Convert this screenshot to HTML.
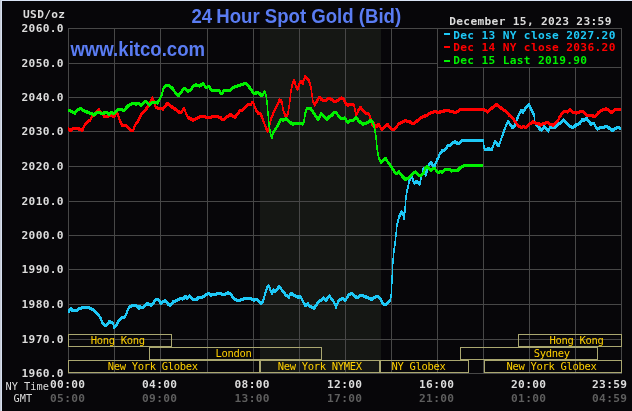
<!DOCTYPE html>
<html><head><meta charset="utf-8"><title>24 Hour Spot Gold</title>
<style>
html,body{margin:0;padding:0;background:#070609;overflow:hidden;}
svg{display:block;}
.lb{font-family:"DejaVu Sans Mono",monospace;font-weight:bold;font-size:11.2px;letter-spacing:0.33px;}
.ss{font-family:"DejaVu Sans Mono",monospace;font-size:10.5px;letter-spacing:-0.32px;fill:#ffd000;}
.sm{font-family:"DejaVu Sans Mono",monospace;font-size:10.3px;}
.tt{font-family:"Liberation Sans",Arial,sans-serif;font-weight:bold;font-size:19.8px;fill:#5a7cf2;}
</style></head>
<body>
<svg width="632" height="411" viewBox="0 0 632 411">
<rect x="0" y="0" width="632" height="411" fill="#070609"/>
<rect x="260" y="29" width="121" height="344" fill="#151714"/>
<rect x="68" y="28" width="1" height="346" fill="#474747"/>
<rect x="114" y="28" width="1" height="346" fill="#474747"/>
<rect x="160" y="28" width="1" height="346" fill="#474747"/>
<rect x="207" y="28" width="1" height="346" fill="#474747"/>
<rect x="253" y="28" width="1" height="346" fill="#474747"/>
<rect x="299" y="28" width="1" height="346" fill="#474747"/>
<rect x="345" y="28" width="1" height="346" fill="#474747"/>
<rect x="391" y="28" width="1" height="346" fill="#474747"/>
<rect x="437" y="28" width="1" height="346" fill="#474747"/>
<rect x="483" y="28" width="1" height="346" fill="#474747"/>
<rect x="529" y="28" width="1" height="346" fill="#474747"/>
<rect x="575" y="28" width="1" height="346" fill="#474747"/>
<rect x="621" y="28" width="1" height="346" fill="#474747"/>
<rect x="68" y="28" width="554" height="1" fill="#474747"/>
<rect x="68" y="63" width="554" height="1" fill="#474747"/>
<rect x="68" y="97" width="554" height="1" fill="#474747"/>
<rect x="68" y="131" width="554" height="1" fill="#474747"/>
<rect x="68" y="166" width="554" height="1" fill="#474747"/>
<rect x="68" y="201" width="554" height="1" fill="#474747"/>
<rect x="68" y="235" width="554" height="1" fill="#474747"/>
<rect x="68" y="269" width="554" height="1" fill="#474747"/>
<rect x="68" y="304" width="554" height="1" fill="#474747"/>
<rect x="68" y="339" width="554" height="1" fill="#474747"/>
<rect x="68" y="373" width="554" height="1" fill="#474747"/>
<rect x="68.5" y="334.5" width="103" height="12" fill="none" stroke="#aaa770" stroke-width="1"/>
<rect x="518.5" y="334.5" width="103" height="12" fill="none" stroke="#aaa770" stroke-width="1"/>
<rect x="149.5" y="347.5" width="172" height="12" fill="none" stroke="#aaa770" stroke-width="1"/>
<rect x="460.5" y="347.5" width="137" height="12" fill="none" stroke="#aaa770" stroke-width="1"/>
<rect x="68.5" y="360.5" width="191" height="12" fill="none" stroke="#aaa770" stroke-width="1"/>
<rect x="260.5" y="360.5" width="119" height="12" fill="none" stroke="#aaa770" stroke-width="1"/>
<rect x="380.5" y="360.5" width="88" height="12" fill="none" stroke="#aaa770" stroke-width="1"/>
<rect x="484.5" y="360.5" width="137" height="12" fill="none" stroke="#aaa770" stroke-width="1"/>
<text x="90.8" y="344.1" class="ss">Hong Kong</text>
<text x="549.6" y="344.1" class="ss">Hong Kong</text>
<text x="215.6" y="357" class="ss">London</text>
<text x="533.8" y="357" class="ss">Sydney</text>
<text x="107.8" y="370" class="ss">New York Globex</text>
<text x="277.8" y="370" class="ss">New York NYMEX</text>
<text x="391.6" y="370" class="ss">NY Globex</text>
<text x="506.6" y="370" class="ss">New York Globex</text>
<path d="M67.8,310.3 68.9,308.8 70.1,308.8 70.1,311.8 69,313.3 67.8,313.3ZM68.9,308.8 70.2,307.3 71.4,307.3 71.4,310.3 70.1,311.8 68.9,311.8ZM70.2,307.3 71.4,307.3 72.7,308.6 72.7,311.6 71.5,311.6 70.2,310.3ZM71.5,308.6 72.7,308.6 75.4,309 75.4,312 74.2,312 71.5,311.6ZM74.2,309 76.8,308.6 78,308.6 78,311.6 75.4,312 74.2,312ZM76.8,308.6 78.5,307.3 79.7,307.3 79.7,310.3 78,311.6 76.8,311.6ZM78.5,307.3 81.2,306.4 82.4,306.4 82.4,309.4 79.7,310.3 78.5,310.3ZM81.2,306.4 83.8,305.5 85,305.5 85,308.5 82.4,309.4 81.2,309.4ZM83.8,305.5 85,305.5 86.6,305.9 86.6,308.9 85.4,308.9 83.8,308.5ZM85.4,305.9 89.2,305.9 89.2,308.9 85.4,308.9ZM88,305.9 89.2,305.9 91.9,307.2 91.9,310.2 90.7,310.2 88,308.9ZM90.7,307.2 91.9,307.2 94.5,308.9 94.5,311.9 93.3,311.9 90.7,310.2ZM93.3,308.9 94.5,308.9 97.1,311.6 97.1,314.6 95.9,314.6 93.3,311.9ZM95.9,311.6 97.1,311.6 99.7,314.2 99.7,317.2 98.5,317.2 95.9,314.6ZM98.5,314.2 99.7,314.2 101.5,317.3 101.5,320.3 100.3,320.3 98.5,317.2ZM100.3,317.3 101.5,317.3 102.8,320.8 102.8,323.8 101.6,323.8 100.3,320.3ZM101.6,320.8 102.8,320.8 104.1,323 104.1,326 102.9,326 101.6,323.8ZM102.9,323 104.1,323 106.3,323.8 106.3,326.8 105.1,326.8 102.9,326ZM105.1,323.8 106.9,322.5 108.1,322.5 108.1,325.5 106.3,326.8 105.1,326.8ZM106.9,322.5 108.6,320.3 109.8,320.3 109.8,323.3 108.1,325.5 106.9,325.5ZM108.6,320.3 109.8,320.3 112,320.8 112,323.8 110.8,323.8 108.6,323.3ZM110.8,320.8 112,320.8 113.7,322.1 113.7,325.1 112.5,325.1 110.8,323.8ZM112.5,322.1 113.7,322.1 114.6,326 114.6,329 113.4,329 112.5,325.1ZM113.4,326 114.7,324.7 115.9,324.7 115.9,327.7 114.6,329 113.4,329ZM114.7,324.7 116.5,322.5 117.7,322.5 117.7,325.5 115.9,327.7 114.7,327.7ZM116.5,322.5 117.7,319.9 118.9,319.9 118.9,322.9 117.7,325.5 116.5,325.5ZM117.7,319.9 119.5,318.1 120.7,318.1 120.7,321.1 118.9,322.9 117.7,322.9ZM119.5,318.1 121.2,316.4 122.4,316.4 122.4,319.4 120.7,321.1 119.5,321.1ZM121.2,316.4 124.2,316.4 124.2,319.4 121.2,319.4ZM123,316.4 124.7,314.6 125.9,314.6 125.9,317.6 124.2,319.4 123,319.4ZM124.7,314.6 125.9,312.3 127.1,312.3 127.1,315.3 125.9,317.6 124.7,317.6ZM125.9,312.3 126.8,309.3 128,309.3 128,312.3 127.1,315.3 125.9,315.3ZM126.8,309.3 128,306.7 129.2,306.7 129.2,309.7 128,312.3 126.8,312.3ZM128,306.7 129.4,305.3 130.6,305.3 130.6,308.3 129.2,309.7 128,309.7ZM129.4,305.3 130.9,304.7 132.1,304.7 132.1,307.7 130.6,308.3 129.4,308.3ZM130.9,304.7 132.3,303.5 133.5,303.5 133.5,306.5 132.1,307.7 130.9,307.7ZM132.3,303.5 133.5,303.5 134.7,304.1 134.7,307.1 133.5,307.1 132.3,306.5ZM133.5,304.1 134.7,304.1 136.5,304.4 136.5,307.4 135.3,307.4 133.5,307.1ZM135.3,304.4 136.5,304.4 137.9,304.7 137.9,307.7 136.7,307.7 135.3,307.4ZM136.7,304.7 137.9,304.7 139.1,306.1 139.1,309.1 137.9,309.1 136.7,307.7ZM137.9,306.1 139.1,306.1 140.2,307 140.2,310 139,310 137.9,309.1ZM139,307 139.5,305.2 140.7,305.2 140.7,308.2 140.2,310 139,310ZM139.5,305.2 140.7,305.2 143.5,306.3 143.5,309.3 142.3,309.3 139.5,308.2ZM142.3,306.3 144.4,304.2 145.6,304.2 145.6,307.2 143.5,309.3 142.3,309.3ZM144.4,304.2 146.5,302.1 147.7,302.1 147.7,305.1 145.6,307.2 144.4,307.2ZM146.5,302.1 147.7,302.1 149.7,303.1 149.7,306.1 148.5,306.1 146.5,305.1ZM148.5,303.1 149.7,303.1 151.8,303.8 151.8,306.8 150.6,306.8 148.5,306.1ZM150.6,303.8 152.4,302.1 153.6,302.1 153.6,305.1 151.8,306.8 150.6,306.8ZM152.4,302.1 154.1,299.6 155.3,299.6 155.3,302.6 153.6,305.1 152.4,305.1ZM154.1,299.6 156.2,297.6 157.4,297.6 157.4,300.6 155.3,302.6 154.1,302.6ZM156.2,297.6 158.8,297.6 158.8,300.6 156.2,300.6ZM157.6,297.6 158.8,297.6 160.2,300 160.2,303 159,303 157.6,300.6ZM159,300 160.2,300 161.6,302.1 161.6,305.1 160.4,305.1 159,303ZM160.4,302.1 162.5,300 163.7,300 163.7,303 161.6,305.1 160.4,305.1ZM162.5,300 164.2,299.3 165.4,299.3 165.4,302.3 163.7,303 162.5,303ZM164.2,299.3 165.4,299.3 167.2,300.3 167.2,303.3 166,303.3 164.2,302.3ZM166,300.3 167.2,300.3 168.9,302.8 168.9,305.8 167.7,305.8 166,303.3ZM167.7,302.8 168.9,302.8 170.6,304.2 170.6,307.2 169.4,307.2 167.7,305.8ZM169.4,304.2 170.8,302.4 172,302.4 172,305.4 170.6,307.2 169.4,307.2ZM170.8,302.4 172.9,300 174.1,300 174.1,303 172,305.4 170.8,305.4ZM172.9,300 175.4,299.3 176.6,299.3 176.6,302.3 174.1,303 172.9,303ZM175.4,299.3 177.8,298.2 179,298.2 179,301.2 176.6,302.3 175.4,302.3ZM177.8,298.2 179.9,297.2 181.1,297.2 181.1,300.2 179,301.2 177.8,301.2ZM179.9,297.2 181.4,296.9 182.6,296.9 182.6,299.9 181.1,300.2 179.9,300.2ZM181.4,296.9 182.6,296.9 183.4,297.5 183.4,300.5 182.2,300.5 181.4,299.9ZM182.2,297.5 185,295 186.2,295 186.2,298 183.4,300.5 182.2,300.5ZM185,295 186.2,295 187.9,297.1 187.9,300.1 186.7,300.1 185,298ZM186.7,297.1 189.1,294.3 190.3,294.3 190.3,297.3 187.9,300.1 186.7,300.1ZM189.1,294.3 190.3,294.3 192.8,297.5 192.8,300.5 191.6,300.5 189.1,297.3ZM191.6,297.5 192.8,297.5 194.5,298.2 194.5,301.2 193.3,301.2 191.6,300.5ZM193.3,298.2 197,298.2 197,301.2 193.3,301.2ZM195.8,298.2 198.2,295.7 199.4,295.7 199.4,298.7 197,301.2 195.8,301.2ZM198.2,295.7 199.4,295.7 202.2,296.1 202.2,299.1 201,299.1 198.2,298.7ZM201,296.1 203.4,295 204.6,295 204.6,298 202.2,299.1 201,299.1ZM203.4,295 205.9,292.9 207.1,292.9 207.1,295.9 204.6,298 203.4,298ZM205.9,292.9 208,291.6 209.2,291.6 209.2,294.6 207.1,295.9 205.9,295.9ZM208,291.6 209.2,291.6 211.2,293.6 211.2,296.6 210,296.6 208,294.6ZM210,293.6 212.8,293.3 214,293.3 214,296.3 211.2,296.6 210,296.6ZM212.8,293.3 215.6,292.6 216.8,292.6 216.8,295.6 214,296.3 212.8,296.3ZM215.6,292.6 219.1,291.6 220.3,291.6 220.3,294.6 216.8,295.6 215.6,295.6ZM219.1,291.6 220.3,291.6 222.4,292.9 222.4,295.9 221.2,295.9 219.1,294.6ZM221.2,292.9 222.4,292.9 224.6,293.3 224.6,296.3 223.4,296.3 221.2,295.9ZM223.4,293.3 224.9,292.4 226.1,292.4 226.1,295.4 224.6,296.3 223.4,296.3ZM224.9,292.4 227.3,291.4 228.5,291.4 228.5,294.4 226.1,295.4 224.9,295.4ZM227.3,291.4 228.5,291.4 231,292.4 231,295.4 229.8,295.4 227.3,294.4ZM229.8,292.4 231,292.4 233,295.2 233,298.2 231.8,298.2 229.8,295.4ZM231.8,295.2 233,295.2 235.1,297.7 235.1,300.7 233.9,300.7 231.8,298.2ZM233.9,297.7 235.1,297.7 237.2,298.7 237.2,301.7 236,301.7 233.9,300.7ZM236,298.7 240,298.7 240,301.7 236,301.7ZM238.8,298.7 241.6,298 242.8,298 242.8,301 240,301.7 238.8,301.7ZM241.6,298 245.1,296.6 246.3,296.6 246.3,299.6 242.8,301 241.6,301ZM245.1,296.6 249.8,296.6 249.8,299.6 245.1,299.6ZM248.6,296.6 249.8,296.6 252.5,297.7 252.5,300.7 251.3,300.7 248.6,299.6ZM251.3,297.7 252.5,297.7 254.6,298.7 254.6,301.7 253.4,301.7 251.3,300.7ZM253.4,298.7 255.5,297.7 256.7,297.7 256.7,300.7 254.6,301.7 253.4,301.7ZM255.5,297.7 256.7,297.7 258.8,298.7 258.8,301.7 257.6,301.7 255.5,300.7ZM257.6,298.7 258.8,298.7 260.6,300.8 260.6,303.8 259.4,303.8 257.6,301.7ZM259.4,300.8 260.6,300.8 261.9,301.8 261.9,304.8 260.7,304.8 259.4,303.8ZM260.7,301.8 262.5,299.4 263.7,299.4 263.7,302.4 261.9,304.8 260.7,304.8ZM262.5,299.4 263.5,295.9 264.7,295.9 264.7,298.9 263.7,302.4 262.5,302.4ZM263.5,295.9 264.6,291.7 265.8,291.7 265.8,294.7 264.7,298.9 263.5,298.9ZM264.6,291.7 264.9,290.9 266.1,290.9 266.1,293.9 265.8,294.7 264.6,294.7ZM264.9,290.9 266.7,285.8 267.9,285.8 267.9,288.8 266.1,293.9 264.9,293.9ZM266.7,285.8 268.1,284.3 269.3,284.3 269.3,287.3 267.9,288.8 266.7,288.8ZM268.1,284.3 269.3,284.3 270.8,288 270.8,291 269.6,291 268.1,287.3ZM269.6,288 270.8,288 272.3,292 272.3,295 271.1,295 269.6,291ZM271.1,292 272.9,288.4 274.1,288.4 274.1,291.4 272.3,295 271.1,295ZM272.9,288.4 274.1,288.4 275.5,289.8 275.5,292.8 274.3,292.8 272.9,291.4ZM274.3,289.8 276.5,287.6 277.7,287.6 277.7,290.6 275.5,292.8 274.3,292.8ZM276.5,287.6 278.7,285.1 279.9,285.1 279.9,288.1 277.7,290.6 276.5,290.6ZM278.7,285.1 279.9,285.1 282.1,288 282.1,291 280.9,291 278.7,288.1ZM280.9,288 282.1,288 284.3,290.9 284.3,293.9 283.1,293.9 280.9,291ZM283.1,290.9 284.3,290.9 286.5,293.5 286.5,296.5 285.3,296.5 283.1,293.9ZM285.3,293.5 286.5,293.5 288,294.2 288,297.2 286.8,297.2 285.3,296.5ZM286.8,294.2 288,294.2 289.4,296 289.4,299 288.2,299 286.8,297.2ZM288.2,296 290,291.6 291.2,291.6 291.2,294.6 289.4,299 288.2,299ZM290,291.6 291.2,291.6 293.4,293.1 293.4,296.1 292.2,296.1 290,294.6ZM292.2,293.1 293.4,293.1 296,294.6 296,297.6 294.8,297.6 292.2,296.1ZM294.8,294.6 296,294.6 298.2,295.7 298.2,298.7 297,298.7 294.8,297.6ZM297,295.7 299.9,295.3 301.1,295.3 301.1,298.3 298.2,298.7 297,298.7ZM299.9,295.3 301.1,295.3 302.6,298.2 302.6,301.2 301.4,301.2 299.9,298.3ZM301.4,298.2 302.6,298.2 304.4,301.5 304.4,304.5 303.2,304.5 301.4,301.2ZM303.2,301.5 304.4,301.5 306.2,304.4 306.2,307.4 305,307.4 303.2,304.5ZM305,304.4 307.2,302.2 308.4,302.2 308.4,305.2 306.2,307.4 305,307.4ZM307.2,302.2 308.4,302.2 309.8,304.2 309.8,307.2 308.6,307.2 307.2,305.2ZM308.6,304.2 309.8,304.2 312.2,305.6 312.2,308.6 311,308.6 308.6,307.2ZM311,305.6 312.2,305.6 314.7,307.1 314.7,310.1 313.5,310.1 311,308.6ZM313.5,307.1 315.9,303.2 317.1,303.2 317.1,306.2 314.7,310.1 313.5,310.1ZM315.9,303.2 318.3,300.3 319.5,300.3 319.5,303.3 317.1,306.2 315.9,306.2ZM318.3,300.3 320.8,298.3 322,298.3 322,301.3 319.5,303.3 318.3,303.3ZM320.8,298.3 323.2,296.4 324.4,296.4 324.4,299.4 322,301.3 320.8,301.3ZM323.2,296.4 324.4,296.4 326.4,299.3 326.4,302.3 325.2,302.3 323.2,299.4ZM325.2,299.3 327.1,296.4 328.3,296.4 328.3,299.4 326.4,302.3 325.2,302.3ZM327.1,296.4 328.8,294.4 330,294.4 330,297.4 328.3,299.4 327.1,299.4ZM328.8,294.4 330,294.4 331.7,296.9 331.7,299.9 330.5,299.9 328.8,297.4ZM330.5,296.9 331.7,296.9 333.7,299.3 333.7,302.3 332.5,302.3 330.5,299.9ZM332.5,299.3 333.7,299.3 335.6,302.7 335.6,305.7 334.4,305.7 332.5,302.3ZM334.4,302.7 335.6,302.7 336.9,306.1 336.9,309.1 335.7,309.1 334.4,305.7ZM335.7,306.1 336.8,301.3 338,301.3 338,304.3 336.9,309.1 335.7,309.1ZM336.8,301.3 338.3,299.3 339.5,299.3 339.5,302.3 338,304.3 336.8,304.3ZM338.3,299.3 340.7,297.4 341.9,297.4 341.9,300.4 339.5,302.3 338.3,302.3ZM340.7,297.4 342.7,296.9 343.9,296.9 343.9,299.9 341.9,300.4 340.7,300.4ZM342.7,296.9 343.9,296.9 345.8,299 345.8,302 344.6,302 342.7,299.9ZM344.6,299 346.6,295.9 347.8,295.9 347.8,298.9 345.8,302 344.6,302ZM346.6,295.9 348.5,293 349.7,293 349.7,296 347.8,298.9 346.6,298.9ZM348.5,293 350.5,292 351.7,292 351.7,295 349.7,296 348.5,296ZM350.5,292 351.7,292 354.1,293 354.1,296 352.9,296 350.5,295ZM352.9,293 354.1,293 356,295.4 356,298.4 354.8,298.4 352.9,296ZM354.8,295.4 356,295.4 358.6,295.9 358.6,298.9 357.4,298.9 354.8,298.4ZM357.4,295.9 360.5,293.5 361.7,293.5 361.7,296.5 358.6,298.9 357.4,298.9ZM360.5,293.5 361.7,293.5 366.8,295.6 366.8,298.6 365.6,298.6 360.5,296.5ZM365.6,295.6 366.8,295.6 371.9,297.9 371.9,300.9 370.7,300.9 365.6,298.6ZM370.7,297.9 376.5,294.5 377.7,294.5 377.7,297.5 371.9,300.9 370.7,300.9ZM376.5,294.5 377.7,294.5 380.6,296.6 380.6,299.6 379.4,299.6 376.5,297.5ZM379.4,296.6 380.6,296.6 382.4,300.3 382.4,303.3 381.2,303.3 379.4,299.6ZM381.2,300.3 382.4,300.3 384.3,302.6 384.3,305.6 383.1,305.6 381.2,303.3ZM383.1,302.6 384.3,302.6 386.1,303.4 386.1,306.4 384.9,306.4 383.1,305.6ZM384.9,303.4 386.7,302.1 387.9,302.1 387.9,305.1 386.1,306.4 384.9,306.4ZM386.7,302.1 388.5,300.3 389.7,300.3 389.7,303.3 387.9,305.1 386.7,305.1ZM388.5,300.3 390,298.4 391.2,298.4 391.2,301.4 389.7,303.3 388.5,303.3ZM390,298.4 390.7,292 391.9,292 391.9,295 391.2,301.4 390,301.4ZM390.7,292 391.3,281.1 392.5,281.1 392.5,284.1 391.9,295 390.7,295ZM391.3,281.1 391.8,266.4 393,266.4 393,269.4 392.5,284.1 391.3,284.1ZM391.8,266.4 392.6,257.3 393.8,257.3 393.8,260.3 393,269.4 391.8,269.4ZM392.6,257.3 393.3,250 394.5,250 394.5,253 393.8,260.3 392.6,260.3ZM393.3,250 394,244.5 395.2,244.5 395.2,247.5 394.5,253 393.3,253ZM394,244.5 394.9,239 396.1,239 396.1,242 395.2,247.5 394,247.5ZM394.9,239 395.7,229.9 396.9,229.9 396.9,232.9 396.1,242 394.9,242ZM395.7,229.9 396.2,224.8 397.4,224.8 397.4,227.8 396.9,232.9 395.7,232.9ZM396.2,224.8 397.4,219.7 398.6,219.7 398.6,222.7 397.4,227.8 396.2,227.8ZM397.4,219.7 398.4,215.4 399.6,215.4 399.6,218.4 398.6,222.7 397.4,222.7ZM398.4,215.4 399.6,212.9 400.8,212.9 400.8,215.9 399.6,218.4 398.4,218.4ZM399.6,212.9 401,210.3 402.2,210.3 402.2,213.3 400.8,215.9 399.6,215.9ZM401,210.3 402.2,210.3 403.4,212 403.4,215 402.2,215 401,213.3ZM402.2,212 403.4,212 404.7,217.1 404.7,220.1 403.5,220.1 402.2,215ZM403.5,217.1 404.2,212 405.4,212 405.4,215 404.7,220.1 403.5,220.1ZM404.2,212 404.7,202.6 405.9,202.6 405.9,205.6 405.4,215 404.2,215ZM404.7,202.6 405.6,194.1 406.8,194.1 406.8,197.1 405.9,205.6 404.7,205.6ZM405.6,194.1 406.4,189.8 407.6,189.8 407.6,192.8 406.8,197.1 405.6,197.1ZM406.4,189.8 407.3,185.6 408.5,185.6 408.5,188.6 407.6,192.8 406.4,192.8ZM407.3,185.6 408.4,180.6 409.6,180.6 409.6,183.6 408.5,188.6 407.3,188.6ZM408.4,180.6 409.4,177.7 410.6,177.7 410.6,180.7 409.6,183.6 408.4,183.6ZM409.4,177.7 410.8,174.8 412,174.8 412,177.8 410.6,180.7 409.4,180.7ZM410.8,174.8 412,174.8 413,176.2 413,179.2 411.8,179.2 410.8,177.8ZM411.8,176.2 413,176.2 414,179.6 414,182.6 412.8,182.6 411.8,179.2ZM412.8,179.6 414,179.6 414.9,181.6 414.9,184.6 413.7,184.6 412.8,182.6ZM413.7,181.6 415.2,180.1 416.4,180.1 416.4,183.1 414.9,184.6 413.7,184.6ZM415.2,180.1 416.4,180.1 417.8,180.6 417.8,183.6 416.6,183.6 415.2,183.1ZM416.6,180.6 417.8,180.6 419.3,181.6 419.3,184.6 418.1,184.6 416.6,183.6ZM418.1,181.6 419.3,181.6 420.3,182.5 420.3,185.5 419.1,185.5 418.1,184.6ZM419.1,182.5 420,178.7 421.2,178.7 421.2,181.7 420.3,185.5 419.1,185.5ZM420,178.7 421,174.8 422.2,174.8 422.2,177.8 421.2,181.7 420,181.7ZM421,174.8 422,170.4 423.2,170.4 423.2,173.4 422.2,177.8 421,177.8ZM422,170.4 423,166.5 424.2,166.5 424.2,169.5 423.2,173.4 422,173.4ZM423,166.5 424.2,166.5 425.1,168 425.1,171 423.9,171 423,169.5ZM423.9,168 425.1,168 426.1,174.3 426.1,177.3 424.9,177.3 423.9,171ZM424.9,174.3 425.9,170.9 427.1,170.9 427.1,173.9 426.1,177.3 424.9,177.3ZM425.9,170.9 426.9,167.5 428.1,167.5 428.1,170.5 427.1,173.9 425.9,173.9ZM426.9,167.5 427.8,163.6 429,163.6 429,166.6 428.1,170.5 426.9,170.5ZM427.8,163.6 429.3,162.1 430.5,162.1 430.5,165.1 429,166.6 427.8,166.6ZM429.3,162.1 430.7,161.1 431.9,161.1 431.9,164.1 430.5,165.1 429.3,165.1ZM430.7,161.1 431.9,161.1 432.9,163.1 432.9,166.1 431.7,166.1 430.7,164.1ZM431.7,163.1 432.9,163.1 433.9,164.6 433.9,167.6 432.7,167.6 431.7,166.1ZM432.7,164.6 434.2,164.1 435.4,164.1 435.4,167.1 433.9,167.6 432.7,167.6ZM434.2,164.1 435.1,162.1 436.3,162.1 436.3,165.1 435.4,167.1 434.2,167.1ZM435.1,162.1 436.1,159.2 437.3,159.2 437.3,162.2 436.3,165.1 435.1,165.1ZM436.1,159.2 437.1,157.3 438.3,157.3 438.3,160.3 437.3,162.2 436.1,162.2ZM437.1,157.3 438,155.8 439.2,155.8 439.2,158.8 438.3,160.3 437.1,160.3ZM438,155.8 439,152.4 440.2,152.4 440.2,155.4 439.2,158.8 438,158.8ZM439,152.4 441.4,149.5 442.6,149.5 442.6,152.5 440.2,155.4 439,155.4ZM441.4,149.5 443.3,149.1 444.5,149.1 444.5,152.1 442.6,152.5 441.4,152.5ZM443.3,149.1 444.8,148.1 446,148.1 446,151.1 444.5,152.1 443.3,152.1ZM444.8,148.1 446.2,145.7 447.4,145.7 447.4,148.7 446,151.1 444.8,151.1ZM446.2,145.7 447.7,143.7 448.9,143.7 448.9,146.7 447.4,148.7 446.2,148.7ZM447.7,143.7 448.9,143.7 450.3,144.2 450.3,147.2 449.1,147.2 447.7,146.7ZM449.1,144.2 450.6,142.7 451.8,142.7 451.8,145.7 450.3,147.2 449.1,147.2ZM450.6,142.7 452,141.3 453.2,141.3 453.2,144.3 451.8,145.7 450.6,145.7ZM452,141.3 454,140.3 455.2,140.3 455.2,143.3 453.2,144.3 452,144.3ZM454,140.3 455.2,140.3 457.1,141.3 457.1,144.3 455.9,144.3 454,143.3ZM455.9,141.3 457.1,141.3 459.1,142.3 459.1,145.3 457.9,145.3 455.9,144.3ZM457.9,142.3 459.3,140.8 460.5,140.8 460.5,143.8 459.1,145.3 457.9,145.3ZM459.3,140.8 460.8,139.5 462,139.5 462,142.5 460.5,143.8 459.3,143.8ZM460.8,139.5 462.3,139 463.5,139 463.5,142 462,142.5 460.8,142.5ZM462.3,139 465.9,139 465.9,142 462.3,142ZM464.7,139 474.6,139 474.6,142 464.7,142ZM473.4,139 483.7,139 483.7,142 473.4,142ZM482.5,139 483.7,139 484.2,144.5 484.2,147.5 483,147.5 482.5,142ZM483,144.5 484.2,144.5 485.2,147.5 485.2,150.5 484,150.5 483,147.5ZM484,147.5 485.2,147.5 487.1,148 487.1,151 485.9,151 484,150.5ZM485.9,148 487.9,147.3 489.1,147.3 489.1,150.3 487.1,151 485.9,151ZM487.9,147.3 489.1,147.3 491.1,148.2 491.1,151.2 489.9,151.2 487.9,150.3ZM489.9,148.2 491.4,147.5 492.6,147.5 492.6,150.5 491.1,151.2 489.9,151.2ZM491.4,147.5 492.9,143.5 494.1,143.5 494.1,146.5 492.6,150.5 491.4,150.5ZM492.9,143.5 494.4,139.5 495.6,139.5 495.6,142.5 494.1,146.5 492.9,146.5ZM494.4,139.5 495.6,139.5 496.8,141 496.8,144 495.6,144 494.4,142.5ZM495.6,141 496.8,141 497.9,143.1 497.9,146.1 496.7,146.1 495.6,144ZM496.7,143.1 497.9,143.1 499.6,144 499.6,147 498.4,147 496.7,146.1ZM498.4,144 501,136.2 502.2,136.2 502.2,139.2 499.6,147 498.4,147ZM501,136.2 503.1,130.7 504.3,130.7 504.3,133.7 502.2,139.2 501,139.2ZM503.1,130.7 505.3,124.2 506.5,124.2 506.5,127.2 504.3,133.7 503.1,133.7ZM505.3,124.2 507.5,119.8 508.7,119.8 508.7,122.8 506.5,127.2 505.3,127.2ZM507.5,119.8 508.7,119.8 510.9,123.1 510.9,126.1 509.7,126.1 507.5,122.8ZM509.7,123.1 510.9,123.1 513.1,126.3 513.1,129.3 511.9,129.3 509.7,126.1ZM511.9,126.3 514.1,124.2 515.3,124.2 515.3,127.2 513.1,129.3 511.9,129.3ZM514.1,124.2 516.3,117.6 517.5,117.6 517.5,120.6 515.3,127.2 514.1,127.2ZM516.3,117.6 517.4,115.5 518.6,115.5 518.6,118.5 517.5,120.6 516.3,120.6ZM517.4,115.5 518.9,112.1 520.1,112.1 520.1,115.1 518.6,118.5 517.4,118.5ZM518.9,112.1 520.8,108.7 522,108.7 522,111.7 520.1,115.1 518.9,115.1ZM520.8,108.7 522,108.7 523.5,111.1 523.5,114.1 522.3,114.1 520.8,111.7ZM522.3,111.1 523.7,108.7 524.9,108.7 524.9,111.7 523.5,114.1 522.3,114.1ZM523.7,108.7 525.2,106.2 526.4,106.2 526.4,109.2 524.9,111.7 523.7,111.7ZM525.2,106.2 527.1,104.3 528.3,104.3 528.3,107.3 526.4,109.2 525.2,109.2ZM527.1,104.3 528.6,102.8 529.8,102.8 529.8,105.8 528.3,107.3 527.1,107.3ZM528.6,102.8 529.8,102.8 530.8,106.2 530.8,109.2 529.6,109.2 528.6,105.8ZM529.6,106.2 530.8,106.2 532.2,108.7 532.2,111.7 531,111.7 529.6,109.2ZM531,108.7 532.2,108.7 533.7,111.6 533.7,114.6 532.5,114.6 531,111.7ZM532.5,111.6 533.7,111.6 534.7,113.5 534.7,116.5 533.5,116.5 532.5,114.6ZM533.5,113.5 534.7,113.5 535.3,119.8 535.3,122.8 534.1,122.8 533.5,116.5ZM534.1,119.8 535.3,119.8 536.1,122.8 536.1,125.8 534.9,125.8 534.1,122.8ZM534.9,122.8 536.1,122.8 538.1,124.2 538.1,127.2 536.9,127.2 534.9,125.8ZM536.9,124.2 538.1,124.2 540,127.1 540,130.1 538.8,130.1 536.9,127.2ZM538.8,127.1 540,127.1 541.9,128.6 541.9,131.6 540.7,131.6 538.8,130.1ZM540.7,128.6 542.2,127.6 543.4,127.6 543.4,130.6 541.9,131.6 540.7,131.6ZM542.2,127.6 543.7,125.2 544.9,125.2 544.9,128.2 543.4,130.6 542.2,130.6ZM543.7,125.2 544.9,125.2 546.8,127.6 546.8,130.6 545.6,130.6 543.7,128.2ZM545.6,127.6 546.8,127.6 548.8,129.6 548.8,132.6 547.6,132.6 545.6,130.6ZM547.6,129.6 549,126.7 550.2,126.7 550.2,129.7 548.8,132.6 547.6,132.6ZM549,126.7 551,125.2 552.2,125.2 552.2,128.2 550.2,129.7 549,129.7ZM551,125.2 552.2,125.2 554.1,125.7 554.1,128.7 552.9,128.7 551,128.2ZM552.9,125.7 554.1,125.7 555.6,126.2 555.6,129.2 554.4,129.2 552.9,128.7ZM554.4,126.2 555.8,124.7 557,124.7 557,127.7 555.6,129.2 554.4,129.2ZM555.8,124.7 557.4,122.8 558.6,122.8 558.6,125.8 557,127.7 555.8,127.7ZM557.4,122.8 560.1,121.5 561.3,121.5 561.3,124.5 558.6,125.8 557.4,125.8ZM560.1,121.5 563,118.2 564.2,118.2 564.2,121.2 561.3,124.5 560.1,124.5ZM563,118.2 564.2,118.2 567.1,121.7 567.1,124.7 565.9,124.7 563,121.2ZM565.9,121.7 567.1,121.7 570,124.4 570,127.4 568.8,127.4 565.9,124.7ZM568.8,124.4 570,124.4 572.9,126.1 572.9,129.1 571.7,129.1 568.8,127.4ZM571.7,126.1 573.9,125.1 575.1,125.1 575.1,128.1 572.9,129.1 571.7,129.1ZM573.9,125.1 576.1,122.9 577.3,122.9 577.3,125.9 575.1,128.1 573.9,128.1ZM576.1,122.9 579,122.2 580.2,122.2 580.2,125.2 577.3,125.9 576.1,125.9ZM579,122.2 581.6,118.3 582.8,118.3 582.8,121.3 580.2,125.2 579,125.2ZM581.6,118.3 582.8,118.3 585,118.8 585,121.8 583.8,121.8 581.6,121.3ZM583.8,118.8 586,116.8 587.2,116.8 587.2,119.8 585,121.8 583.8,121.8ZM586,116.8 587.2,116.8 589.4,120 589.4,123 588.2,123 586,119.8ZM588.2,120 589.4,120 591.6,122.6 591.6,125.6 590.4,125.6 588.2,123ZM590.4,122.6 593.3,121.8 594.5,121.8 594.5,124.8 591.6,125.6 590.4,125.6ZM593.3,121.8 594.5,121.8 596.7,125.9 596.7,128.9 595.5,128.9 593.3,124.8ZM595.5,125.9 596.7,125.9 598.1,127.6 598.1,130.6 596.9,130.6 595.5,128.9ZM596.9,127.6 599.8,126.2 601,126.2 601,129.2 598.1,130.6 596.9,130.6ZM599.8,126.2 602.8,125.9 604,125.9 604,128.9 601,129.2 599.8,129.2ZM602.8,125.9 605.7,124.7 606.9,124.7 606.9,127.7 604,128.9 602.8,128.9ZM605.7,124.7 606.9,124.7 609.8,126.6 609.8,129.6 608.6,129.6 605.7,127.7ZM608.6,126.6 609.8,126.6 612.7,129.1 612.7,132.1 611.5,132.1 608.6,129.6ZM611.5,129.1 614.5,127.3 615.7,127.3 615.7,130.3 612.7,132.1 611.5,132.1ZM614.5,127.3 617.4,125.9 618.6,125.9 618.6,128.9 615.7,130.3 614.5,130.3ZM617.4,125.9 618.6,125.9 621.2,127 621.2,130 620,130 617.4,128.9Z" fill="#1ec8f6" shape-rendering="crispEdges"/>
<path d="M68,127.4 69.2,127.4 71,128.9 71,131.9 69.8,131.9 68,130.4ZM69.8,128.9 72.7,126.7 73.9,126.7 73.9,129.7 71,131.9 69.8,131.9ZM72.7,126.7 73.9,126.7 78.3,127 78.3,130 77.1,130 72.7,129.7ZM77.1,127 78.3,127 81.2,128.1 81.2,131.1 80,131.1 77.1,130ZM80,128.1 81.2,128.1 82.9,128.9 82.9,131.9 81.7,131.9 80,131.1ZM81.7,128.9 84.4,123 85.6,123 85.6,126 82.9,131.9 81.7,131.9ZM84.4,123 86.6,120.8 87.8,120.8 87.8,123.8 85.6,126 84.4,126ZM86.6,120.8 89.5,118.6 90.7,118.6 90.7,121.6 87.8,123.8 86.6,123.8ZM89.5,118.6 91.7,114.7 92.9,114.7 92.9,117.7 90.7,121.6 89.5,121.6ZM91.7,114.7 93.9,113.2 95.1,113.2 95.1,116.2 92.9,117.7 91.7,117.7ZM93.9,113.2 96.1,109.9 97.3,109.9 97.3,112.9 95.1,116.2 93.9,116.2ZM96.1,109.9 98.2,108.1 99.4,108.1 99.4,111.1 97.3,112.9 96.1,112.9ZM98.2,108.1 99.4,108.1 101.6,111.3 101.6,114.3 100.4,114.3 98.2,111.1ZM100.4,111.3 101.6,111.3 103.8,113.5 103.8,116.5 102.6,116.5 100.4,114.3ZM102.6,113.5 103.8,113.5 104.6,114.9 104.6,117.9 103.4,117.9 102.6,116.5ZM103.4,114.9 104.6,114.9 107.5,115.4 107.5,118.4 106.3,118.4 103.4,117.9ZM106.3,115.4 109.2,113.9 110.4,113.9 110.4,116.9 107.5,118.4 106.3,118.4ZM109.2,113.9 110.4,113.9 113.4,114.4 113.4,117.4 112.2,117.4 109.2,116.9ZM112.2,114.4 113.4,114.4 114.8,115.4 114.8,118.4 113.6,118.4 112.2,117.4ZM113.6,115.4 115.6,111.5 116.8,111.5 116.8,114.5 114.8,118.4 113.6,118.4ZM115.6,111.5 116.8,111.5 118.2,112.5 118.2,115.5 117,115.5 115.6,114.5ZM117,112.5 118.2,112.5 119.7,116.8 119.7,119.8 118.5,119.8 117,115.5ZM118.5,116.8 119.7,116.8 121.1,120.7 121.1,123.7 119.9,123.7 118.5,119.8ZM119.9,120.7 121.1,120.7 122.6,123.6 122.6,126.6 121.4,126.6 119.9,123.7ZM121.4,123.6 122.6,123.6 125,124.1 125,127.1 123.8,127.1 121.4,126.6ZM123.8,124.1 125,124.1 127.5,124.6 127.5,127.6 126.3,127.6 123.8,127.1ZM126.3,124.6 127.5,124.6 129.9,127.5 129.9,130.5 128.7,130.5 126.3,127.6ZM128.7,127.5 129.9,127.5 132.3,129 132.3,132 131.1,132 128.7,130.5ZM131.1,129 132.6,128.5 133.8,128.5 133.8,131.5 132.3,132 131.1,132ZM132.6,128.5 134.1,124.6 135.3,124.6 135.3,127.6 133.8,131.5 132.6,131.5ZM134.1,124.6 136,121.2 137.2,121.2 137.2,124.2 135.3,127.6 134.1,127.6ZM136,121.2 137.9,118.8 139.1,118.8 139.1,121.8 137.2,124.2 136,124.2ZM137.9,118.8 139.4,115.4 140.6,115.4 140.6,118.4 139.1,121.8 137.9,121.8ZM139.4,115.4 141.4,111.7 142.6,111.7 142.6,114.7 140.6,118.4 139.4,118.4ZM141.4,111.7 144.5,108.7 145.7,108.7 145.7,111.7 142.6,114.7 141.4,114.7ZM144.5,108.7 147.5,105.1 148.7,105.1 148.7,108.1 145.7,111.7 144.5,111.7ZM147.5,105.1 150.1,100 151.3,100 151.3,103 148.7,108.1 147.5,108.1ZM150.1,100 151.6,96.4 152.8,96.4 152.8,99.4 151.3,103 150.1,103ZM151.6,96.4 152.8,96.4 154.3,99.5 154.3,102.5 153.1,102.5 151.6,99.4ZM153.1,99.5 154.3,99.5 155.9,105.1 155.9,108.1 154.7,108.1 153.1,102.5ZM154.7,105.1 155.9,105.1 157.9,106.6 157.9,109.6 156.7,109.6 154.7,108.1ZM156.7,106.6 161,106.6 161,109.6 156.7,109.6ZM159.8,106.6 161,106.6 163.5,107.7 163.5,110.7 162.3,110.7 159.8,109.6ZM162.3,107.7 164.9,104.1 166.1,104.1 166.1,107.1 163.5,110.7 162.3,110.7ZM164.9,104.1 167.4,101.5 168.6,101.5 168.6,104.5 166.1,107.1 164.9,107.1ZM167.4,101.5 168.6,101.5 171.2,104.6 171.2,107.6 170,107.6 167.4,104.5ZM170,104.6 171.2,104.6 174.3,106.6 174.3,109.6 173.1,109.6 170,107.6ZM173.1,106.6 174.3,106.6 177.3,108.7 177.3,111.7 176.1,111.7 173.1,109.6ZM176.1,108.7 177.3,108.7 180.4,111.2 180.4,114.2 179.2,114.2 176.1,111.7ZM179.2,111.2 181.2,110.2 182.4,110.2 182.4,113.2 180.4,114.2 179.2,114.2ZM181.2,110.2 183.4,106.6 184.6,106.6 184.6,109.6 182.4,113.2 181.2,113.2ZM183.4,106.6 184.6,106.6 186.2,110.8 186.2,113.8 185,113.8 183.4,109.6ZM185,110.8 186.2,110.8 188.4,115.9 188.4,118.9 187.2,118.9 185,113.8ZM187.2,115.9 188.4,115.9 191.4,117.4 191.4,120.4 190.2,120.4 187.2,118.9ZM190.2,117.4 191.4,117.4 193.6,118.9 193.6,121.9 192.4,121.9 190.2,120.4ZM192.4,118.9 195.3,117.4 196.5,117.4 196.5,120.4 193.6,121.9 192.4,121.9ZM195.3,117.4 197.5,115.9 198.7,115.9 198.7,118.9 196.5,120.4 195.3,120.4ZM197.5,115.9 200.4,114.9 201.6,114.9 201.6,117.9 198.7,118.9 197.5,118.9ZM200.4,114.9 201.6,114.9 204.5,115.2 204.5,118.2 203.3,118.2 200.4,117.9ZM203.3,115.2 204.5,115.2 207.4,115.9 207.4,118.9 206.2,118.9 203.3,118.2ZM206.2,115.9 210.3,115.9 210.3,118.9 206.2,118.9ZM209.1,115.9 212.1,115.2 213.3,115.2 213.3,118.2 210.3,118.9 209.1,118.9ZM212.1,115.2 215,114.5 216.2,114.5 216.2,117.5 213.3,118.2 212.1,118.2ZM215,114.5 216.2,114.5 219.1,115.5 219.1,118.5 217.9,118.5 215,117.5ZM217.9,115.5 219.1,115.5 222,116.7 222,119.7 220.8,119.7 217.9,118.5ZM220.8,116.7 222,116.7 222.6,117.8 222.6,120.8 221.4,120.8 220.8,119.7ZM221.4,117.8 224.9,117.8 224.9,120.8 221.4,120.8ZM223.7,117.8 226.1,115.4 227.3,115.4 227.3,118.4 224.9,120.8 223.7,120.8ZM226.1,115.4 230.2,113.1 231.4,113.1 231.4,116.1 227.3,118.4 226.1,118.4ZM230.2,113.1 231.4,113.1 235.5,116 235.5,119 234.3,119 230.2,116.1ZM234.3,116 236.6,113.1 237.8,113.1 237.8,116.1 235.5,119 234.3,119ZM236.6,113.1 239.5,109 240.7,109 240.7,112 237.8,116.1 236.6,116.1ZM239.5,109 243.1,109 243.1,112 239.5,112ZM241.9,109 244.8,105.5 246,105.5 246,108.5 243.1,112 241.9,112ZM244.8,105.5 248.3,102.6 249.5,102.6 249.5,105.6 246,108.5 244.8,108.5ZM248.3,102.6 249.5,102.6 251.3,103.2 251.3,106.2 250.1,106.2 248.3,105.6ZM250.1,103.2 252,100.5 253.2,100.5 253.2,103.5 251.3,106.2 250.1,106.2ZM252,100.5 253.2,100.5 254.8,103.7 254.8,106.7 253.6,106.7 252,103.5ZM253.6,103.7 254.8,103.7 256.5,108.4 256.5,111.4 255.3,111.4 253.6,106.7ZM255.3,108.4 256.5,108.4 258.9,111.9 258.9,114.9 257.7,114.9 255.3,111.4ZM257.7,111.9 260.6,111.9 260.6,114.9 257.7,114.9ZM259.4,111.9 260.6,111.9 262.4,114.9 262.4,117.9 261.2,117.9 259.4,114.9ZM261.2,114.9 262.4,114.9 265.3,123 265.3,126 264.1,126 261.2,117.9ZM264.1,123 265.3,123 267.9,129.8 267.9,132.8 266.7,132.8 264.1,126ZM266.7,129.8 268.4,126.4 269.6,126.4 269.6,129.4 267.9,132.8 266.7,132.8ZM268.4,126.4 269.7,119.6 270.9,119.6 270.9,122.6 269.6,129.4 268.4,129.4ZM269.7,119.6 272.6,111.9 273.8,111.9 273.8,114.9 270.9,122.6 269.7,122.6ZM272.6,111.9 276,105.1 277.2,105.1 277.2,108.1 273.8,114.9 272.6,114.9ZM276,105.1 278.9,98.3 280.1,98.3 280.1,101.3 277.2,108.1 276,108.1ZM278.9,98.3 280.1,98.3 282.3,100 282.3,103 281.1,103 278.9,101.3ZM281.1,100 282.3,100 284,109.4 284,112.4 282.8,112.4 281.1,103ZM282.8,109.4 284,109.4 286.3,115.3 286.3,118.3 285.1,118.3 282.8,112.4ZM285.1,115.3 287.1,113.6 288.3,113.6 288.3,116.6 286.3,118.3 285.1,118.3ZM287.1,113.6 288.8,102.6 290,102.6 290,105.6 288.3,116.6 287.1,116.6ZM288.8,102.6 290.5,88.9 291.7,88.9 291.7,91.9 290,105.6 288.8,105.6ZM290.5,88.9 292.2,81.3 293.4,81.3 293.4,84.3 291.7,91.9 290.5,91.9ZM292.2,81.3 293.6,78.7 294.8,78.7 294.8,81.7 293.4,84.3 292.2,84.3ZM293.6,78.7 294.8,78.7 296.5,84.7 296.5,87.7 295.3,87.7 293.6,81.7ZM295.3,84.7 296.5,84.7 298.2,88.1 298.2,91.1 297,91.1 295.3,87.7ZM297,88.1 299.1,81.4 300.3,81.4 300.3,84.4 298.2,91.1 297,91.1ZM299.1,81.4 300.8,79.7 302,79.7 302,82.7 300.3,84.4 299.1,84.4ZM300.8,79.7 302,79.7 303.7,82.2 303.7,85.2 302.5,85.2 300.8,82.7ZM302.5,82.2 304.2,74.6 305.4,74.6 305.4,77.6 303.7,85.2 302.5,85.2ZM304.2,74.6 305.4,74.6 308,77.1 308,80.1 306.8,80.1 304.2,77.6ZM306.8,77.1 308,77.1 310.2,80.5 310.2,83.5 309,83.5 306.8,80.1ZM309,80.5 310.2,80.5 311.9,88.2 311.9,91.2 310.7,91.2 309,83.5ZM310.7,88.2 311.9,88.2 313.6,100.1 313.6,103.1 312.4,103.1 310.7,91.2ZM312.4,100.1 313.6,100.1 315.3,103.5 315.3,106.5 314.1,106.5 312.4,103.1ZM314.1,103.5 316.1,100.1 317.3,100.1 317.3,103.1 315.3,106.5 314.1,106.5ZM316.1,100.1 318.7,95.5 319.9,95.5 319.9,98.5 317.3,103.1 316.1,103.1ZM318.7,95.5 319.9,95.5 322.5,98.4 322.5,101.4 321.3,101.4 318.7,98.5ZM321.3,98.4 322.5,98.4 325.9,99.3 325.9,102.3 324.7,102.3 321.3,101.4ZM324.7,99.3 328.1,96.7 329.3,96.7 329.3,99.7 325.9,102.3 324.7,102.3ZM328.1,96.7 329.3,96.7 332.7,98.4 332.7,101.4 331.5,101.4 328.1,99.7ZM331.5,98.4 332.7,98.4 335.2,100.1 335.2,103.1 334,103.1 331.5,101.4ZM334,100.1 336.6,99.3 337.8,99.3 337.8,102.3 335.2,103.1 334,103.1ZM336.6,99.3 338.6,99.3 338.6,102.3 336.6,102.3ZM337.4,99.3 338.9,97.4 340.1,97.4 340.1,100.4 338.6,102.3 337.4,102.3ZM338.9,97.4 340.8,96.4 342,96.4 342,99.4 340.1,100.4 338.9,100.4ZM340.8,96.4 342,96.4 344.4,97.9 344.4,100.9 343.2,100.9 340.8,99.4ZM343.2,97.9 344.4,97.9 346.4,102.3 346.4,105.3 345.2,105.3 343.2,100.9ZM345.2,102.3 346.4,102.3 348.3,103.7 348.3,106.7 347.1,106.7 345.2,105.3ZM347.1,103.7 349.6,103.2 350.8,103.2 350.8,106.2 348.3,106.7 347.1,106.7ZM349.6,103.2 351.5,102.8 352.7,102.8 352.7,105.8 350.8,106.2 349.6,106.2ZM351.5,102.8 352.7,102.8 354.7,104.2 354.7,107.2 353.5,107.2 351.5,105.8ZM353.5,104.2 354.7,104.2 356.1,110.5 356.1,113.5 354.9,113.5 353.5,107.2ZM354.9,110.5 356.1,110.5 356.6,114.4 356.6,117.4 355.4,117.4 354.9,113.5ZM355.4,114.4 356.4,112 357.6,112 357.6,115 356.6,117.4 355.4,117.4ZM356.4,112 357.8,108.6 359,108.6 359,111.6 357.6,115 356.4,115ZM357.8,108.6 359.8,105.7 361,105.7 361,108.7 359,111.6 357.8,111.6ZM359.8,105.7 361,105.7 362.9,108.1 362.9,111.1 361.7,111.1 359.8,108.7ZM361.7,108.1 362.9,108.1 364.9,110.1 364.9,113.1 363.7,113.1 361.7,111.1ZM363.7,110.1 364.9,110.1 366.8,112 366.8,115 365.6,115 363.7,113.1ZM365.6,112 367.6,111.5 368.8,111.5 368.8,114.5 366.8,115 365.6,115ZM367.6,111.5 368.8,111.5 370.2,114.4 370.2,117.4 369,117.4 367.6,114.5ZM369,114.4 370.2,114.4 371.2,117.4 371.2,120.4 370,120.4 369,117.4ZM370,117.4 371.2,117.4 372.2,120.8 372.2,123.8 371,123.8 370,120.4ZM371,120.8 372.2,120.8 373.2,124.2 373.2,127.2 372,127.2 371,123.8ZM372,124.2 373.4,122.2 374.6,122.2 374.6,125.2 373.2,127.2 372,127.2ZM373.4,122.2 374.6,122.2 376.1,125.6 376.1,128.6 374.9,128.6 373.4,125.2ZM374.9,125.6 376.3,124.7 377.5,124.7 377.5,127.7 376.1,128.6 374.9,128.6ZM376.3,124.7 378.3,122.7 379.5,122.7 379.5,125.7 377.5,127.7 376.3,127.7ZM378.3,122.7 379.5,122.7 381,126.1 381,129.1 379.8,129.1 378.3,125.7ZM379.8,126.1 381,126.1 382.6,127.6 382.6,130.6 381.4,130.6 379.8,129.1ZM381.4,127.6 383.9,125.2 385.1,125.2 385.1,128.2 382.6,130.6 381.4,130.6ZM383.9,125.2 387.1,123.1 388.3,123.1 388.3,126.1 385.1,128.2 383.9,128.2ZM387.1,123.1 388.3,123.1 391.6,127.4 391.6,130.4 390.4,130.4 387.1,126.1ZM390.4,127.4 391.6,127.4 394.9,128.1 394.9,131.1 393.7,131.1 390.4,130.4ZM393.7,128.1 395.9,125.9 397.1,125.9 397.1,128.9 394.9,131.1 393.7,131.1ZM395.9,125.9 398.1,122 399.3,122 399.3,125 397.1,128.9 395.9,128.9ZM398.1,122 401.4,120.9 402.6,120.9 402.6,123.9 399.3,125 398.1,125ZM401.4,120.9 404.7,119.3 405.9,119.3 405.9,122.3 402.6,123.9 401.4,123.9ZM404.7,119.3 405.9,119.3 409.2,119.8 409.2,122.8 408,122.8 404.7,122.3ZM408,119.8 409.2,119.8 412.4,121.5 412.4,124.5 411.2,124.5 408,122.8ZM411.2,121.5 412.4,121.5 414.6,122 414.6,125 413.4,125 411.2,124.5ZM413.4,122 416.7,119.3 417.9,119.3 417.9,122.3 414.6,125 413.4,125ZM416.7,119.3 420,116.5 421.2,116.5 421.2,119.5 417.9,122.3 416.7,122.3ZM420,116.5 423.3,115 424.5,115 424.5,118 421.2,119.5 420,119.5ZM423.3,115 426.5,113.6 427.7,113.6 427.7,116.6 424.5,118 423.3,118ZM426.5,113.6 429.8,111.5 431,111.5 431,114.5 427.7,116.6 426.5,116.6ZM429.8,111.5 434.2,109.9 435.4,109.9 435.4,112.9 431,114.5 429.8,114.5ZM434.2,109.9 435.4,109.9 438.7,111 438.7,114 437.5,114 434.2,112.9ZM437.5,111 441.9,109.9 443.1,109.9 443.1,112.9 438.7,114 437.5,114ZM441.9,109.9 446.2,108.8 447.4,108.8 447.4,111.8 443.1,112.9 441.9,112.9ZM446.2,108.8 447.4,108.8 451.8,109.9 451.8,112.9 450.6,112.9 446.2,111.8ZM450.6,109.9 451.8,109.9 456.2,111 456.2,114 455,114 450.6,112.9ZM455,111 459.4,108.4 460.6,108.4 460.6,111.4 456.2,114 455,114ZM459.4,108.4 463.8,107.7 465,107.7 465,110.7 460.6,111.4 459.4,111.4ZM463.8,107.7 469.3,107.7 469.3,110.7 463.8,110.7ZM468.1,107.7 474.6,107.7 474.6,110.7 468.1,110.7ZM473.4,107.7 482.5,107.7 482.5,110.7 473.4,110.7ZM481.3,107.7 482.5,107.7 485.7,108.8 485.7,111.8 484.5,111.8 481.3,110.7ZM484.5,108.8 485.7,108.8 488.4,110.6 488.4,113.6 487.2,113.6 484.5,111.8ZM487.2,110.6 490,107.7 491.2,107.7 491.2,110.7 488.4,113.6 487.2,113.6ZM490,107.7 493.3,104.9 494.5,104.9 494.5,107.9 491.2,110.7 490,110.7ZM493.3,104.9 496.1,103 497.3,103 497.3,106 494.5,107.9 493.3,107.9ZM496.1,103 497.3,103 500,105.5 500,108.5 498.8,108.5 496.1,106ZM498.8,105.5 500,105.5 503.3,107.7 503.3,110.7 502.1,110.7 498.8,108.5ZM502.1,107.7 503.3,107.7 506.5,109.9 506.5,112.9 505.3,112.9 502.1,110.7ZM505.3,109.9 506.5,109.9 509.8,113.6 509.8,116.6 508.6,116.6 505.3,112.9ZM508.6,113.6 509.8,113.6 513.1,116.5 513.1,119.5 511.9,119.5 508.6,116.6ZM511.9,116.5 513.1,116.5 516.4,120.9 516.4,123.9 515.2,123.9 511.9,119.5ZM515.2,120.9 516.4,120.9 518.6,124.2 518.6,127.2 517.4,127.2 515.2,123.9ZM517.4,124.2 518.6,124.2 520.6,125.2 520.6,128.2 519.4,128.2 517.4,127.2ZM519.4,125.2 520.6,125.2 522.5,126.2 522.5,129.2 521.3,129.2 519.4,128.2ZM521.3,126.2 523.2,124.7 524.4,124.7 524.4,127.7 522.5,129.2 521.3,129.2ZM523.2,124.7 524.4,124.7 526.4,126.2 526.4,129.2 525.2,129.2 523.2,127.7ZM525.2,126.2 527.1,124.2 528.3,124.2 528.3,127.2 526.4,129.2 525.2,129.2ZM527.1,124.2 529.1,122.3 530.3,122.3 530.3,125.3 528.3,127.2 527.1,127.2ZM529.1,122.3 531,121.3 532.2,121.3 532.2,124.3 530.3,125.3 529.1,125.3ZM531,121.3 532,120.3 533.2,120.3 533.2,123.3 532.2,124.3 531,124.3ZM532,120.3 533.2,120.3 535.1,121.3 535.1,124.3 533.9,124.3 532,123.3ZM533.9,121.3 535.1,121.3 537.1,121.8 537.1,124.8 535.9,124.8 533.9,124.3ZM535.9,121.8 537.1,121.8 539,122 539,125 537.8,125 535.9,124.8ZM537.8,122 539,122 541,123.7 541,126.7 539.8,126.7 537.8,125ZM539.8,123.7 541.7,122.8 542.9,122.8 542.9,125.8 541,126.7 539.8,126.7ZM541.7,122.8 543.7,121.8 544.9,121.8 544.9,124.8 542.9,125.8 541.7,125.8ZM543.7,121.8 545.6,121.3 546.8,121.3 546.8,124.3 544.9,124.8 543.7,124.8ZM545.6,121.3 548.8,121.3 548.8,124.3 545.6,124.3ZM547.6,121.3 548.8,121.3 550.2,122.3 550.2,125.3 549,125.3 547.6,124.3ZM549,122.3 550.2,122.3 551.7,123.3 551.7,126.3 550.5,126.3 549,125.3ZM550.5,123.3 551.7,123.3 553.6,123.5 553.6,126.5 552.4,126.5 550.5,126.3ZM552.4,123.5 554.4,122.3 555.6,122.3 555.6,125.3 553.6,126.5 552.4,126.5ZM554.4,122.3 555.8,120.3 557,120.3 557,123.3 555.6,125.3 554.4,125.3ZM555.8,120.3 557.4,118.9 558.6,118.9 558.6,121.9 557,123.3 555.8,123.3ZM557.4,118.9 558.6,116.3 559.8,116.3 559.8,119.3 558.6,121.9 557.4,121.9ZM558.6,116.3 560.8,112.7 562,112.7 562,115.7 559.8,119.3 558.6,119.3ZM560.8,112.7 563.7,109.5 564.9,109.5 564.9,112.5 562,115.7 560.8,115.7ZM563.7,109.5 564.9,109.5 567.8,110.5 567.8,113.5 566.6,113.5 563.7,112.5ZM566.6,110.5 569.5,107.6 570.7,107.6 570.7,110.6 567.8,113.5 566.6,113.5ZM569.5,107.6 570.7,107.6 573.7,111.2 573.7,114.2 572.5,114.2 569.5,110.6ZM572.5,111.2 573.7,111.2 577.3,111.5 577.3,114.5 576.1,114.5 572.5,114.2ZM576.1,111.5 579,110.5 580.2,110.5 580.2,113.5 577.3,114.5 576.1,114.5ZM579,110.5 581.8,109.8 583,109.8 583,112.8 580.2,113.5 579,113.5ZM581.8,109.8 583,109.8 585,111.5 585,114.5 583.8,114.5 581.8,112.8ZM583.8,111.5 585,111.5 587.9,114.2 587.9,117.2 586.7,117.2 583.8,114.5ZM586.7,114.2 589.6,113.9 590.8,113.9 590.8,116.9 587.9,117.2 586.7,117.2ZM589.6,113.9 590.8,113.9 593.7,114.5 593.7,117.5 592.5,117.5 589.6,116.9ZM592.5,114.5 593.7,114.5 595.9,114.9 595.9,117.9 594.7,117.9 592.5,117.5ZM594.7,114.9 596.9,112 598.1,112 598.1,115 595.9,117.9 594.7,117.9ZM596.9,112 599.8,109.5 601,109.5 601,112.5 598.1,115 596.9,115ZM599.8,109.5 602.8,108 604,108 604,111 601,112.5 599.8,112.5ZM602.8,108 605.7,107.2 606.9,107.2 606.9,110.2 604,111 602.8,111ZM605.7,107.2 606.9,107.2 609.8,109.1 609.8,112.1 608.6,112.1 605.7,110.2ZM608.6,109.1 609.8,109.1 612.7,111.3 612.7,114.3 611.5,114.3 608.6,112.1ZM611.5,111.3 614.5,108.3 615.7,108.3 615.7,111.3 612.7,114.3 611.5,114.3ZM614.5,108.3 617.4,107.6 618.6,107.6 618.6,110.6 615.7,111.3 614.5,111.3ZM617.4,107.6 621.2,107.6 621.2,110.6 617.4,110.6Z" fill="#ff0000" shape-rendering="crispEdges"/>
<path d="M68,108.5 69.2,108.5 72.4,109.9 72.4,112.9 71.2,112.9 68,111.5ZM71.2,109.9 72.4,109.9 75.4,111.8 75.4,114.8 74.2,114.8 71.2,112.9ZM74.2,111.8 76.4,109.2 77.6,109.2 77.6,112.2 75.4,114.8 74.2,114.8ZM76.4,109.2 79.6,106.7 80.8,106.7 80.8,109.7 77.6,112.2 76.4,112.2ZM79.6,106.7 80.8,106.7 83.4,108.5 83.4,111.5 82.2,111.5 79.6,109.7ZM82.2,108.5 83.4,108.5 86.3,109.9 86.3,112.9 85.1,112.9 82.2,111.5ZM85.1,109.9 86.3,109.9 89.2,111.3 89.2,114.3 88,114.3 85.1,112.9ZM88,111.3 89.2,111.3 92.1,112.1 92.1,115.1 90.9,115.1 88,114.3ZM90.9,112.1 92.1,112.1 94.3,113.5 94.3,116.5 93.1,116.5 90.9,115.1ZM93.1,113.5 95.3,111.8 96.5,111.8 96.5,114.8 94.3,116.5 93.1,116.5ZM95.3,111.8 97.5,110.6 98.7,110.6 98.7,113.6 96.5,114.8 95.3,114.8ZM97.5,110.6 98.7,110.6 101.6,111.8 101.6,114.8 100.4,114.8 97.5,113.6ZM100.4,111.8 103.4,111.5 104.6,111.5 104.6,114.5 101.6,114.8 100.4,114.8ZM103.4,111.5 105.8,110.5 107,110.5 107,113.5 104.6,114.5 103.4,114.5ZM105.8,110.5 107,110.5 109.5,112.9 109.5,115.9 108.3,115.9 105.8,113.5ZM108.3,112.9 110.7,111 111.9,111 111.9,114 109.5,115.9 108.3,115.9ZM110.7,111 111.9,111 114.3,112 114.3,115 113.1,115 110.7,114ZM113.1,112 115.6,109.5 116.8,109.5 116.8,112.5 114.3,115 113.1,115ZM115.6,109.5 117.5,107.6 118.7,107.6 118.7,110.6 116.8,112.5 115.6,112.5ZM117.5,107.6 118.7,107.6 121.6,108.1 121.6,111.1 120.4,111.1 117.5,110.6ZM120.4,108.1 121.6,108.1 124.6,109 124.6,112 123.4,112 120.4,111.1ZM123.4,109 125.8,106.1 127,106.1 127,109.1 124.6,112 123.4,112ZM125.8,106.1 128.2,103.7 129.4,103.7 129.4,106.7 127,109.1 125.8,109.1ZM128.2,103.7 130.7,102.7 131.9,102.7 131.9,105.7 129.4,106.7 128.2,106.7ZM130.7,102.7 132.6,101.5 133.8,101.5 133.8,104.5 131.9,105.7 130.7,105.7ZM132.6,101.5 133.8,101.5 136.2,102.7 136.2,105.7 135,105.7 132.6,104.5ZM135,102.7 137,102.2 138.2,102.2 138.2,105.2 136.2,105.7 135,105.7ZM137,102.2 138.4,101.7 139.6,101.7 139.6,104.7 138.2,105.2 137,105.2ZM138.4,101.7 139.6,101.7 141.6,104.2 141.6,107.2 140.4,107.2 138.4,104.7ZM140.4,104.2 141.4,103.1 142.6,103.1 142.6,106.1 141.6,107.2 140.4,107.2ZM141.4,103.1 144.5,99.5 145.7,99.5 145.7,102.5 142.6,106.1 141.4,106.1ZM144.5,99.5 145.7,99.5 148.2,101.5 148.2,104.5 147,104.5 144.5,102.5ZM147,101.5 148.2,101.5 150.3,103.6 150.3,106.6 149.1,106.6 147,104.5ZM149.1,103.6 151.6,100.5 152.8,100.5 152.8,103.5 150.3,106.6 149.1,106.6ZM151.6,100.5 152.8,100.5 155.4,101 155.4,104 154.2,104 151.6,103.5ZM154.2,101 155.4,101 157.9,101.5 157.9,104.5 156.7,104.5 154.2,104ZM156.7,101.5 159.3,97.4 160.5,97.4 160.5,100.4 157.9,104.5 156.7,104.5ZM159.3,97.4 161.3,93.4 162.5,93.4 162.5,96.4 160.5,100.4 159.3,100.4ZM161.3,93.4 162.9,86.7 164.1,86.7 164.1,89.7 162.5,96.4 161.3,96.4ZM162.9,86.7 164.9,84.2 166.1,84.2 166.1,87.2 164.1,89.7 162.9,89.7ZM164.9,84.2 168,83.7 169.2,83.7 169.2,86.7 166.1,87.2 164.9,87.2ZM168,83.7 169.2,83.7 171.7,85.7 171.7,88.7 170.5,88.7 168,86.7ZM170.5,85.7 171.7,85.7 173.8,87.7 173.8,90.7 172.6,90.7 170.5,88.7ZM172.6,87.7 173.8,87.7 175.8,91.3 175.8,94.3 174.6,94.3 172.6,90.7ZM174.6,91.3 175.8,91.3 178.9,94.4 178.9,97.4 177.7,97.4 174.6,94.3ZM177.7,94.4 180.2,91.3 181.4,91.3 181.4,94.3 178.9,97.4 177.7,97.4ZM180.2,91.3 182.8,87.7 184,87.7 184,90.7 181.4,94.3 180.2,94.3ZM182.8,87.7 184.3,86.7 185.5,86.7 185.5,89.7 184,90.7 182.8,90.7ZM184.3,86.7 185.5,86.7 188.4,90.1 188.4,93.1 187.2,93.1 184.3,89.7ZM187.2,90.1 190.2,88.2 191.4,88.2 191.4,91.2 188.4,93.1 187.2,93.1ZM190.2,88.2 193.1,83.8 194.3,83.8 194.3,86.8 191.4,91.2 190.2,91.2ZM193.1,83.8 196,83.4 197.2,83.4 197.2,86.4 194.3,86.8 193.1,86.8ZM196,83.4 197.2,83.4 200.1,84.5 200.1,87.5 198.9,87.5 196,86.4ZM198.9,84.5 202.6,81.9 203.8,81.9 203.8,84.9 200.1,87.5 198.9,87.5ZM202.6,81.9 203.8,81.9 206.7,86.3 206.7,89.3 205.5,89.3 202.6,84.9ZM205.5,86.3 208.4,84.5 209.6,84.5 209.6,87.5 206.7,89.3 205.5,89.3ZM208.4,84.5 209.6,84.5 212.1,89.1 212.1,92.1 210.9,92.1 208.4,87.5ZM210.9,89.1 216.2,89.1 216.2,92.1 210.9,92.1ZM215,89.1 218.6,88.8 219.8,88.8 219.8,91.8 216.2,92.1 215,92.1ZM218.6,88.8 219.8,88.8 221.2,91.7 221.2,94.7 220,94.7 218.6,91.8ZM220,91.7 221.2,91.7 222.6,92 222.6,95 221.4,95 220,94.7ZM221.4,92 223.2,89.1 224.4,89.1 224.4,92.1 222.6,95 221.4,95ZM223.2,89.1 226.1,88.8 227.3,88.8 227.3,91.8 224.4,92.1 223.2,92.1ZM226.1,88.8 230.2,88.5 231.4,88.5 231.4,91.5 227.3,91.8 226.1,91.8ZM230.2,88.5 231.9,86.2 233.1,86.2 233.1,89.2 231.4,91.5 230.2,91.5ZM231.9,86.2 235.4,85 236.6,85 236.6,88 233.1,89.2 231.9,89.2ZM235.4,85 238.9,83.9 240.1,83.9 240.1,86.9 236.6,88 235.4,88ZM238.9,83.9 242.5,82.7 243.7,82.7 243.7,85.7 240.1,86.9 238.9,86.9ZM242.5,82.7 244.8,81.8 246,81.8 246,84.8 243.7,85.7 242.5,85.7ZM244.8,81.8 246,81.8 248.3,83.9 248.3,86.9 247.1,86.9 244.8,84.8ZM247.1,83.9 248.3,83.9 251.3,87.4 251.3,90.4 250.1,90.4 247.1,86.9ZM250.1,87.4 251.3,87.4 254.2,92 254.2,95 253,95 250.1,90.4ZM253,92 255.9,92 255.9,95 253,95ZM254.7,92 256.5,90.6 257.7,90.6 257.7,93.6 255.9,95 254.7,95ZM256.5,90.6 257.7,90.6 260,92 260,95 258.8,95 256.5,93.6ZM258.8,92 260,92 262.4,94.4 262.4,97.4 261.2,97.4 258.8,95ZM261.2,94.4 264.1,90.3 265.3,90.3 265.3,93.3 262.4,97.4 261.2,97.4ZM264.1,90.3 265.3,90.3 267,94.9 267,97.9 265.8,97.9 264.1,93.3ZM265.8,94.9 267,94.9 267.9,104.3 267.9,107.3 266.7,107.3 265.8,97.9ZM266.7,104.3 267.9,104.3 268.7,112.8 268.7,115.8 267.5,115.8 266.7,107.3ZM267.5,112.8 268.7,112.8 269.9,126.4 269.9,129.4 268.7,129.4 267.5,115.8ZM268.7,126.4 269.9,126.4 271.3,133.2 271.3,136.2 270.1,136.2 268.7,129.4ZM270.1,133.2 271.3,133.2 272.6,135.8 272.6,138.8 271.4,138.8 270.1,136.2ZM271.4,135.8 272.6,130.7 273.8,130.7 273.8,133.7 272.6,138.8 271.4,138.8ZM272.6,130.7 275.2,127.3 276.4,127.3 276.4,130.3 273.8,133.7 272.6,133.7ZM275.2,127.3 277.7,123 278.9,123 278.9,126 276.4,130.3 275.2,130.3ZM277.7,123 280.3,117.9 281.5,117.9 281.5,120.9 278.9,126 277.7,126ZM280.3,117.9 281.5,117.9 284,118.8 284,121.8 282.8,121.8 280.3,120.9ZM282.8,118.8 285.4,117.1 286.6,117.1 286.6,120.1 284,121.8 282.8,121.8ZM285.4,117.1 286.6,117.1 290,120.5 290,123.5 288.8,123.5 285.4,120.1ZM288.8,120.5 290,120.5 293.4,122.7 293.4,125.7 292.2,125.7 288.8,123.5ZM292.2,122.7 295.6,121.7 296.8,121.7 296.8,124.7 293.4,125.7 292.2,125.7ZM295.6,121.7 297.4,121.5 298.6,121.5 298.6,124.5 296.8,124.7 295.6,124.7ZM297.4,121.5 301.7,121.5 301.7,124.5 297.4,124.5ZM300.5,121.5 301.7,121.5 303.2,122.6 303.2,125.6 302,125.6 300.5,124.5ZM302,122.6 303.4,119.7 304.6,119.7 304.6,122.7 303.2,125.6 302,125.6ZM303.4,119.7 304.5,112.4 305.7,112.4 305.7,115.4 304.6,122.7 303.4,122.7ZM304.5,112.4 306,107.6 307.2,107.6 307.2,110.6 305.7,115.4 304.5,115.4ZM306,107.6 307.8,106.5 309,106.5 309,109.5 307.2,110.6 306,110.6ZM307.8,106.5 309,106.5 311.2,106.9 311.2,109.9 310,109.9 307.8,109.5ZM310,106.9 311.2,106.9 313.4,110.2 313.4,113.2 312.2,113.2 310,109.9ZM312.2,110.2 313.4,110.2 315.9,113.8 315.9,116.8 314.7,116.8 312.2,113.2ZM314.7,113.8 315.9,113.8 318.5,117.8 318.5,120.8 317.3,120.8 314.7,116.8ZM317.3,117.8 318.8,116 320,116 320,119 318.5,120.8 317.3,120.8ZM318.8,116 320.6,112 321.8,112 321.8,115 320,119 318.8,119ZM320.6,112 321.8,112 323.6,114.2 323.6,117.2 322.4,117.2 320.6,115ZM322.4,114.2 323.6,114.2 325.8,116 325.8,119 324.6,119 322.4,117.2ZM324.6,116 325.8,116 327.6,117.5 327.6,120.5 326.4,120.5 324.6,119ZM326.4,117.5 328.2,115.7 329.4,115.7 329.4,118.7 327.6,120.5 326.4,120.5ZM328.2,115.7 331.2,113.8 332.4,113.8 332.4,116.8 329.4,118.7 328.2,118.7ZM331.2,113.8 334.1,110.5 335.3,110.5 335.3,113.5 332.4,116.8 331.2,116.8ZM334.1,110.5 335.3,110.5 337.5,112 337.5,115 336.3,115 334.1,113.5ZM336.3,112 337.5,112 339.7,115.3 339.7,118.3 338.5,118.3 336.3,115ZM338.5,115.3 339.7,115.3 341.1,116.9 341.1,119.9 339.9,119.9 338.5,118.3ZM339.9,116.9 341.1,116.9 343,117.4 343,120.4 341.8,120.4 339.9,119.9ZM341.8,117.4 344.2,116.4 345.4,116.4 345.4,119.4 343,120.4 341.8,120.4ZM344.2,116.4 345.4,116.4 348.3,121.3 348.3,124.3 347.1,124.3 344.2,119.4ZM347.1,121.3 349.6,119 350.8,119 350.8,122 348.3,124.3 347.1,124.3ZM349.6,119 353.2,119 353.2,122 349.6,122ZM352,119 354.4,117.4 355.6,117.4 355.6,120.4 353.2,122 352,122ZM354.4,117.4 355.9,115.9 357.1,115.9 357.1,118.9 355.6,120.4 354.4,120.4ZM355.9,115.9 357.1,115.9 359,119.3 359,122.3 357.8,122.3 355.9,118.9ZM357.8,119.3 359,119.3 361.5,121.3 361.5,124.3 360.3,124.3 357.8,122.3ZM360.3,121.3 361.5,121.3 363.9,122.7 363.9,125.7 362.7,125.7 360.3,124.3ZM362.7,122.7 365.2,121.7 366.4,121.7 366.4,124.7 363.9,125.7 362.7,125.7ZM365.2,121.7 367.6,120.8 368.8,120.8 368.8,123.8 366.4,124.7 365.2,124.7ZM367.6,120.8 369.5,119.3 370.7,119.3 370.7,122.3 368.8,123.8 367.6,123.8ZM369.5,119.3 370.7,119.3 372.7,119.8 372.7,122.8 371.5,122.8 369.5,122.3ZM371.5,119.8 372.7,119.8 374.1,122.7 374.1,125.7 372.9,125.7 371.5,122.8ZM372.9,122.7 374.1,122.7 375.1,126.6 375.1,129.6 373.9,129.6 372.9,125.7ZM373.9,126.6 375.1,126.6 375.6,130.4 375.6,133.4 374.4,133.4 373.9,129.6ZM374.4,130.4 374.7,128.5 375.9,128.5 375.9,131.5 375.6,133.4 374.4,133.4ZM374.7,128.5 375.9,128.5 377,139.5 377,142.5 375.8,142.5 374.7,131.5ZM375.8,139.5 377,139.5 378.1,150.4 378.1,153.4 376.9,153.4 375.8,142.5ZM376.9,150.4 378.1,150.4 379.6,157 379.6,160 378.4,160 376.9,153.4ZM378.4,157 379.6,157 381.8,161.4 381.8,164.4 380.6,164.4 378.4,160ZM380.6,161.4 382.8,158.1 384,158.1 384,161.1 381.8,164.4 380.6,164.4ZM382.8,158.1 385,157 386.2,157 386.2,160 384,161.1 382.8,161.1ZM385,157 386.2,157 388.3,160.3 388.3,163.3 387.1,163.3 385,160ZM387.1,160.3 388.3,160.3 391.6,164.7 391.6,167.7 390.4,167.7 387.1,163.3ZM390.4,164.7 391.6,164.7 394.9,170.1 394.9,173.1 393.7,173.1 390.4,167.7ZM393.7,170.1 394.9,170.1 397.1,172.3 397.1,175.3 395.9,175.3 393.7,173.1ZM395.9,172.3 398.1,170.1 399.3,170.1 399.3,173.1 397.1,175.3 395.9,175.3ZM398.1,170.1 399.3,170.1 402.6,174.5 402.6,177.5 401.4,177.5 398.1,173.1ZM401.4,174.5 402.6,174.5 405.9,177.8 405.9,180.8 404.7,180.8 401.4,177.5ZM404.7,177.8 407.4,176.7 408.6,176.7 408.6,179.7 405.9,180.8 404.7,180.8ZM407.4,176.7 409.4,174.8 410.6,174.8 410.6,177.8 408.6,179.7 407.4,179.7ZM409.4,174.8 411.3,172.8 412.5,172.8 412.5,175.8 410.6,177.8 409.4,177.8ZM411.3,172.8 413.2,171.4 414.4,171.4 414.4,174.4 412.5,175.8 411.3,175.8ZM413.2,171.4 414.7,170.4 415.9,170.4 415.9,173.4 414.4,174.4 413.2,174.4ZM414.7,170.4 415.9,170.4 417.4,171.4 417.4,174.4 416.2,174.4 414.7,173.4ZM416.2,171.4 417.4,171.4 418.8,173.3 418.8,176.3 417.6,176.3 416.2,174.4ZM417.6,173.3 418.8,173.3 420.3,174.3 420.3,177.3 419.1,177.3 417.6,176.3ZM419.1,174.3 421,173.3 422.2,173.3 422.2,176.3 420.3,177.3 419.1,177.3ZM421,173.3 423,171.8 424.2,171.8 424.2,174.8 422.2,176.3 421,176.3ZM423,171.8 424.4,167.5 425.6,167.5 425.6,170.5 424.2,174.8 423,174.8ZM424.4,167.5 425.9,165 427.1,165 427.1,168 425.6,170.5 424.4,170.5ZM425.9,165 427.1,165 428.5,166 428.5,169 427.3,169 425.9,168ZM427.3,166 428.5,166 430,167.5 430,170.5 428.8,170.5 427.3,169ZM428.8,167.5 430,167.5 431.5,168.9 431.5,171.9 430.3,171.9 428.8,170.5ZM430.3,168.9 431.7,168 432.9,168 432.9,171 431.5,171.9 430.3,171.9ZM431.7,168 433.2,166.5 434.4,166.5 434.4,169.5 432.9,171 431.7,171ZM433.2,166.5 434.4,166.5 435.8,167.5 435.8,170.5 434.6,170.5 433.2,169.5ZM434.6,167.5 435.8,167.5 437.3,169.9 437.3,172.9 436.1,172.9 434.6,170.5ZM436.1,169.9 437.3,169.9 438.8,170.9 438.8,173.9 437.6,173.9 436.1,172.9ZM437.6,170.9 439,170.4 440.2,170.4 440.2,173.4 438.8,173.9 437.6,173.9ZM439,170.4 440.2,170.4 442.6,170.5 442.6,173.5 441.4,173.5 439,173.4ZM441.4,170.5 443.3,169 444.5,169 444.5,172 442.6,173.5 441.4,173.5ZM443.3,169 445.2,168 446.4,168 446.4,171 444.5,172 443.3,172ZM445.2,168 447.2,167.5 448.4,167.5 448.4,170.5 446.4,171 445.2,171ZM447.2,167.5 448.4,167.5 450.3,168 450.3,171 449.1,171 447.2,170.5ZM449.1,168 450.3,168 452.3,169.5 452.3,172.5 451.1,172.5 449.1,171ZM451.1,169.5 453,169 454.2,169 454.2,172 452.3,172.5 451.1,172.5ZM453,169 455,168.5 456.2,168.5 456.2,171.5 454.2,172 453,172ZM455,168.5 458.6,168.5 458.6,171.5 455,171.5ZM457.4,168.5 458.9,167.1 460.1,167.1 460.1,170.1 458.6,171.5 457.4,171.5ZM458.9,167.1 460.3,165.6 461.5,165.6 461.5,168.6 460.1,170.1 458.9,170.1ZM460.3,165.6 461.8,165.1 463,165.1 463,168.1 461.5,168.6 460.3,168.6ZM461.8,165.1 463.7,164 464.9,164 464.9,167 463,168.1 461.8,168.1ZM463.7,164 466.9,164 466.9,167 463.7,167ZM465.7,164 474.6,164 474.6,167 465.7,167ZM473.4,164 482.9,164 482.9,167 473.4,167Z" fill="#00f000" shape-rendering="crispEdges"/>
<rect x="437.5" y="28.5" width="184" height="39" fill="#070609" stroke="#474747" stroke-width="1"/>
<rect x="444" y="33" width="6" height="2" fill="#1ec8f6"/>
<text x="453.2" y="38.5" class="lb" fill="#1ec8f6">Dec 13 NY close 2027.20</text>
<rect x="444" y="46" width="6" height="2" fill="#ff0000"/>
<text x="453.2" y="50.6" class="lb" fill="#ff0000">Dec 14 NY close 2036.20</text>
<rect x="444" y="60" width="6" height="2" fill="#00f000"/>
<text x="453.2" y="63.5" class="lb" fill="#00f000">Dec 15 Last 2019.90</text>
<text x="449.2" y="25" class="lb" fill="#dcdcdc">December 15, 2023 23:59</text>
<text x="23" y="17.8" class="lb" fill="#dcdcdc">USD/oz</text>
<text x="21.5" y="32.0" class="lb" fill="#dcdcdc">2060.0</text>
<text x="21.5" y="67.0" class="lb" fill="#dcdcdc">2050.0</text>
<text x="21.5" y="101.0" class="lb" fill="#dcdcdc">2040.0</text>
<text x="21.5" y="135.0" class="lb" fill="#dcdcdc">2030.0</text>
<text x="21.5" y="170.0" class="lb" fill="#dcdcdc">2020.0</text>
<text x="21.5" y="205.0" class="lb" fill="#dcdcdc">2010.0</text>
<text x="21.5" y="239.0" class="lb" fill="#dcdcdc">2000.0</text>
<text x="21.5" y="273.0" class="lb" fill="#dcdcdc">1990.0</text>
<text x="21.5" y="308.0" class="lb" fill="#dcdcdc">1980.0</text>
<text x="21.5" y="343.0" class="lb" fill="#dcdcdc">1970.0</text>
<text x="21.5" y="377.0" class="lb" fill="#dcdcdc">1960.0</text>
<text x="50" y="388" class="lb" fill="#dcdcdc">00:00</text>
<text x="50" y="402" class="lb" fill="#5e5e5e">05:00</text>
<text x="142" y="388" class="lb" fill="#dcdcdc">04:00</text>
<text x="142" y="402" class="lb" fill="#5e5e5e">09:00</text>
<text x="234.5" y="388" class="lb" fill="#dcdcdc">08:00</text>
<text x="234.5" y="402" class="lb" fill="#5e5e5e">13:00</text>
<text x="327" y="388" class="lb" fill="#dcdcdc">12:00</text>
<text x="327" y="402" class="lb" fill="#5e5e5e">17:00</text>
<text x="419" y="388" class="lb" fill="#dcdcdc">16:00</text>
<text x="419" y="402" class="lb" fill="#5e5e5e">21:00</text>
<text x="511" y="388" class="lb" fill="#dcdcdc">20:00</text>
<text x="511" y="402" class="lb" fill="#5e5e5e">01:00</text>
<text x="592" y="388" class="lb" fill="#dcdcdc">23:59</text>
<text x="592" y="402" class="lb" fill="#5e5e5e">04:59</text>
<text x="5.5" y="390.2" class="sm" fill="#dcdcdc">NY Time</text>
<text x="13.5" y="402.2" class="sm" fill="#dcdcdc">GMT</text>
<text transform="translate(191.4,22.8) scale(0.94,1)" class="tt">24<tspan dx="-1.1"> Hour Spot Gold (Bid)</tspan></text>
<text transform="translate(70.4,55.5) scale(0.94,1)" class="tt">www.kitco.com</text>
<rect x="0" y="0" width="632" height="1" fill="#d9e3f5"/>
<rect x="0" y="0" width="1" height="411" fill="#c6ccd8"/>
<rect x="1" y="1" width="1" height="410" fill="#d6dff0"/>
</svg>
</body></html>
